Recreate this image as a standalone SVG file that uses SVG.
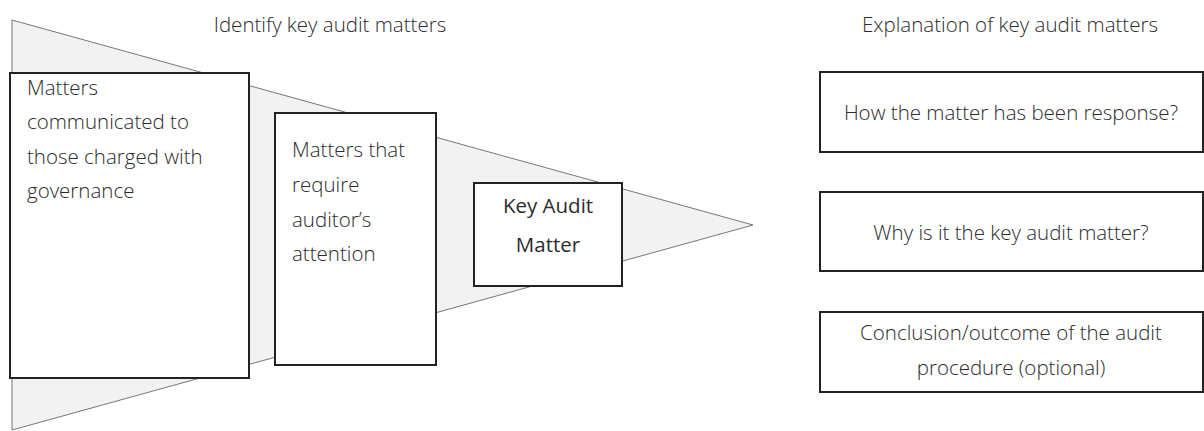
<svg xmlns="http://www.w3.org/2000/svg" width="1204" height="431" viewBox="0 0 1204 431">
<style>
.t{font-family:"Open Sans","Noto Sans","Liberation Sans",sans-serif;font-size:20.5px;fill:#2b2b2b;font-weight:300}
.b{fill:#fff;stroke:#222;stroke-width:2}
.c{text-anchor:middle}
</style>
<rect width="1204" height="431" fill="#fff"/>
<g id="funnel"><polygon points="12,20 753,225 12,430" fill="#f2f2f2" stroke="#777" stroke-width="1"/></g>
<g id="title-left"><text class="t c" x="330" y="32">Identify key audit matters</text></g>
<g id="title-right"><text class="t c" x="1010" y="32">Explanation of key audit matters</text></g>
<g id="box1"><rect class="b" x="10" y="73" width="239" height="305"/>
<text class="t" x="27" y="95">Matters</text>
<text class="t" x="27" y="129">communicated to</text>
<text class="t" x="27" y="164">those charged with</text>
<text class="t" x="27" y="198">governance</text></g>
<g id="box2"><rect class="b" x="275" y="113" width="161" height="252"/>
<text class="t" x="292" y="157">Matters that</text>
<text class="t" x="292" y="192">require</text>
<text class="t" x="292" y="227">auditor’s</text>
<text class="t" x="292" y="261">attention</text></g>
<g id="box3"><rect class="b" x="474" y="183" width="148" height="103"/>
<text class="t c" x="548" y="213" style="font-weight:400">Key Audit</text>
<text class="t c" x="548" y="252" style="font-weight:400">Matter</text></g>
<g id="boxA"><rect class="b" x="820" y="72" width="383" height="80"/>
<text class="t c" x="1011" y="120">How the matter has been response?</text></g>
<g id="boxB"><rect class="b" x="820" y="192" width="383" height="79"/>
<text class="t c" x="1011" y="240">Why is it the key audit matter?</text></g>
<g id="boxC"><rect class="b" x="820" y="312" width="383" height="80"/>
<text class="t c" x="1011" y="340">Conclusion/outcome of the audit</text>
<text class="t c" x="1011" y="375">procedure (optional)</text></g>
<g id="connectors"></g>
</svg>
